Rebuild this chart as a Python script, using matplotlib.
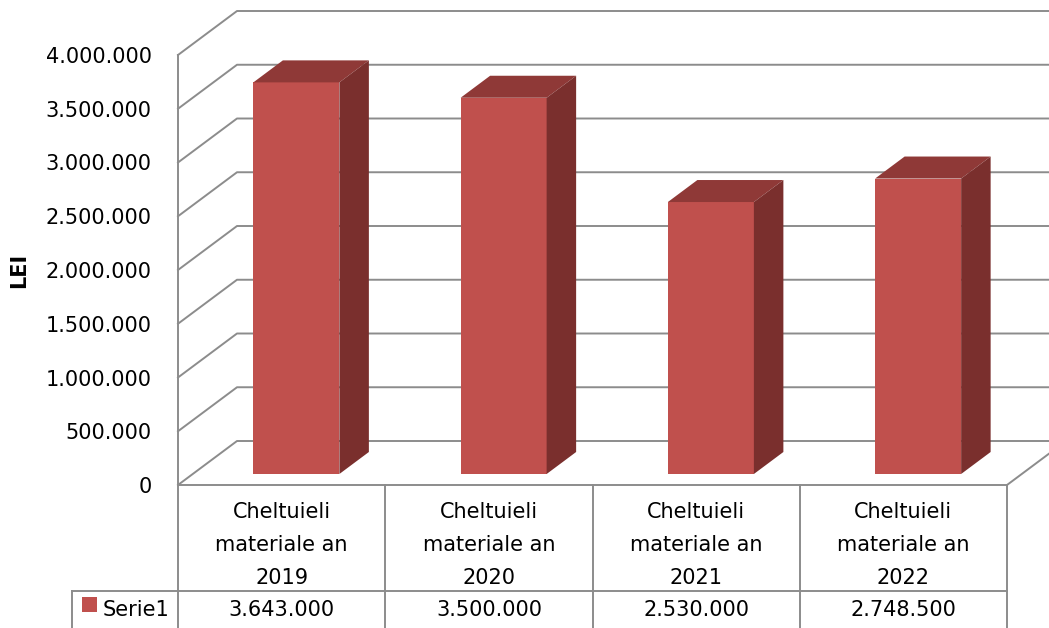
import matplotlib.pyplot as plt
from matplotlib.patches import Polygon, Rectangle

# data
categories = ['Cheltuieli\nmateriale an\n2019', 'Cheltuieli\nmateriale an\n2020',
              'Cheltuieli\nmateriale an\n2021', 'Cheltuieli\nmateriale an\n2022']
values = [3643000, 3500000, 2530000, 2748500]
yticks = [0, 500000, 1000000, 1500000, 2000000, 2500000, 3000000, 3500000, 4000000]
series_name = 'Serie1'

def fmt(v):
    # romanian style thousands separator
    return '{:,.0f}'.format(v).replace(',', '.')

FRONT = '#C0504D'
TOP = '#8F3937'
SIDE = '#7A2F2D'
GRID = '#8C8C8C'

W, H = 1049, 628
fig = plt.figure(figsize=(W / 100, H / 100), dpi=100)
fig.patch.set_facecolor('white')

# axes = front plane of the 3d box
ax = fig.add_axes([178 / W, (H - 485) / H, 829 / W, 430 / H])
ax.set_xlim(-0.5, 3.5)
ax.set_ylim(0, 4000000)
ax.patch.set_alpha(0)

# depth vector of the box (in data units)
DX = 59 / 207.25
DY = 44 * 4000000 / 430

for s in ['top', 'right', 'bottom']:
    ax.spines[s].set_visible(False)
ax.spines['left'].set_color(GRID)
ax.spines['left'].set_linewidth(1.4)
ax.set_xticks([])
ax.set_yticks(yticks)
ax.set_yticklabels([fmt(v) for v in yticks], fontsize=15)
ax.tick_params(axis='y', length=0, pad=19)
ax.set_ylabel('LEI', fontsize=15, fontweight='bold')
ax.yaxis.set_label_coords((29 - 178) / 829, (485 - 270) / 430)

# gridlines: left wall diagonal + back wall horizontal
xl, xr = -0.5, 3.5
for v in yticks:
    ax.plot([xl, xl + DX, xr + DX + 0.5], [v, v + DY, v + DY], color=GRID, lw=1.4,
            clip_on=False, zorder=1)
# floor edges
ax.plot([xl, xr, xr + DX], [0, 0, DY], color=GRID, lw=1.4, clip_on=False, zorder=1)

# bars
bw = 0.415
d0, d1 = 0.25, 0.75
xs = [i + d0 * DX for i in range(len(values))]
bottom = d0 * DY
ax.bar(xs, values, width=bw, bottom=bottom, color=FRONT, zorder=3, clip_on=False)
for x, v in zip(xs, values):
    l, r = x - bw / 2, x + bw / 2
    top = v + bottom
    ddx, ddy = (d1 - d0) * DX, (d1 - d0) * DY
    ax.add_patch(Polygon([(l, top), (r, top), (r + ddx, top + ddy), (l + ddx, top + ddy)],
                         closed=True, facecolor=TOP, edgecolor='none', zorder=3, clip_on=False))
    ax.add_patch(Polygon([(r, bottom), (r + ddx, bottom + ddy), (r + ddx, top + ddy), (r, top)],
                         closed=True, facecolor=SIDE, edgecolor='none', zorder=3, clip_on=False))

# data table under the chart
tr = ax.get_xaxis_transform()
row1 = -(591 - 485) / 430
row_end = -0.4
for b in [-0.5, 0.5, 1.5, 2.5, 3.5]:
    ax.plot([b, b], [0, row_end], color=GRID, lw=1.4, transform=tr, clip_on=False)
leg_x = (72 - 178) / 207.25 - 0.5
ax.plot([leg_x, 3.5], [row1, row1], color=GRID, lw=1.4, transform=tr, clip_on=False)
ax.plot([leg_x, leg_x], [row1, row_end], color=GRID, lw=1.4, transform=tr, clip_on=False)

for i, (c, v) in enumerate(zip(categories, values)):
    ax.text(i, -(545 - 485) / 430, c, transform=tr, ha='center', va='center',
            fontsize=15, linespacing=1.8)
    ax.text(i, -(610 - 485) / 430, fmt(v), transform=tr, ha='center', va='center', fontsize=15)

# legend key inside the table
fig.patches.append(Rectangle((82 / W, 1 - 612 / H), 15 / W, 15 / H, transform=fig.transFigure,
                             facecolor=FRONT, edgecolor='none'))
fig.text(103 / W, 1 - 610 / H, series_name, va='center', ha='left', fontsize=15)

fig.savefig('out.png', dpi=100)
